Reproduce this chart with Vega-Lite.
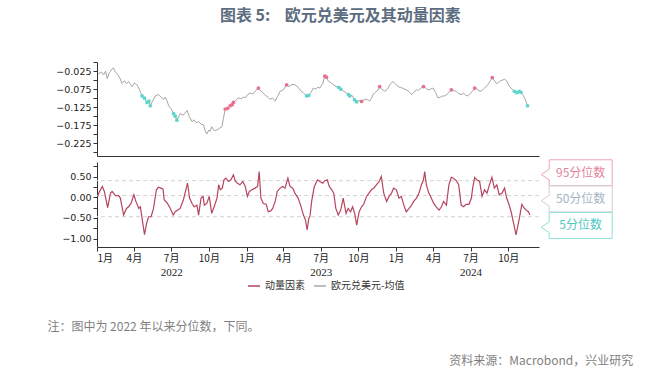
{
  "$schema": "https://vega.github.io/schema/vega-lite/v6.json",
  "background": "white",
  "padding": {"left": 47, "top": 7, "right": 5, "bottom": 4},
  "title": {"text": "图表 5:\u00a0\u00a0\u00a0\u00a0欧元兑美元及其动量因素", "anchor": "middle", "font": "Noto Sans CJK SC", "fontSize": 16, "fontWeight": "bold", "color": "#5d6d80", "offset": 38},
  "bounds": "flush",
  "spacing": 6,
  "resolve": {"scale": {"color": "shared"}, "legend": {"color": "shared"}},
  "config": {
    "view": {"stroke": null},
    "axis": {"grid": false, "domainColor": "#333333", "tickColor": "#333333", "labelColor": "#222222", "labelFont": "DejaVu Sans", "labelFontSize": 9.5, "tickSize": 4, "domainWidth": 1, "tickWidth": 1},
    "legend": {"orient": "none", "legendX": 150, "legendY": 217, "direction": "horizontal", "symbolType": "stroke", "symbolSize": 144, "symbolStrokeWidth": 1.5, "labelFont": "Noto Sans CJK SC", "labelFontSize": 10, "labelColor": "#333333", "columnPadding": 6, "labelOffset": 4}
  },
  "datasets": {
    "eur": [
      {"date": "2022-01-03", "v": -0.030}, {"date": "2022-01-05", "v": -0.032}, {"date": "2022-01-12", "v": -0.028}, {"date": "2022-01-17", "v": -0.036},
      {"date": "2022-01-22", "v": -0.025}, {"date": "2022-01-26", "v": -0.046}, {"date": "2022-01-31", "v": -0.030}, {"date": "2022-02-07", "v": -0.019},
      {"date": "2022-02-10", "v": -0.016}, {"date": "2022-02-15", "v": -0.028}, {"date": "2022-02-20", "v": -0.034}, {"date": "2022-02-26", "v": -0.045},
      {"date": "2022-03-03", "v": -0.059}, {"date": "2022-03-09", "v": -0.052}, {"date": "2022-03-14", "v": -0.060}, {"date": "2022-03-19", "v": -0.054},
      {"date": "2022-03-24", "v": -0.062}, {"date": "2022-03-28", "v": -0.068}, {"date": "2022-04-02", "v": -0.058}, {"date": "2022-04-09", "v": -0.063},
      {"date": "2022-04-14", "v": -0.075}, {"date": "2022-04-21", "v": -0.094, "s": "lo"}, {"date": "2022-04-27", "v": -0.100, "s": "lo"}, {"date": "2022-05-03", "v": -0.112, "s": "lo"},
      {"date": "2022-05-08", "v": -0.108, "s": "lo"}, {"date": "2022-05-11", "v": -0.121, "s": "lo"}, {"date": "2022-05-16", "v": -0.110}, {"date": "2022-05-23", "v": -0.094},
      {"date": "2022-05-31", "v": -0.090}, {"date": "2022-06-07", "v": -0.098}, {"date": "2022-06-13", "v": -0.103}, {"date": "2022-06-17", "v": -0.097},
      {"date": "2022-06-21", "v": -0.108}, {"date": "2022-06-25", "v": -0.121}, {"date": "2022-06-30", "v": -0.128}, {"date": "2022-07-07", "v": -0.143, "s": "lo"},
      {"date": "2022-07-11", "v": -0.150, "s": "lo"}, {"date": "2022-07-15", "v": -0.161, "s": "lo"}, {"date": "2022-07-20", "v": -0.150}, {"date": "2022-07-23", "v": -0.143},
      {"date": "2022-07-31", "v": -0.147}, {"date": "2022-08-09", "v": -0.134}, {"date": "2022-08-14", "v": -0.150}, {"date": "2022-08-21", "v": -0.165},
      {"date": "2022-08-26", "v": -0.160}, {"date": "2022-08-31", "v": -0.168}, {"date": "2022-09-06", "v": -0.165}, {"date": "2022-09-12", "v": -0.172},
      {"date": "2022-09-18", "v": -0.174}, {"date": "2022-09-22", "v": -0.190}, {"date": "2022-09-26", "v": -0.199}, {"date": "2022-10-01", "v": -0.188},
      {"date": "2022-10-04", "v": -0.192}, {"date": "2022-10-08", "v": -0.179}, {"date": "2022-10-14", "v": -0.190}, {"date": "2022-10-21", "v": -0.188},
      {"date": "2022-10-26", "v": -0.184}, {"date": "2022-11-02", "v": -0.179}, {"date": "2022-11-05", "v": -0.160}, {"date": "2022-11-10", "v": -0.130, "s": "hi"},
      {"date": "2022-11-16", "v": -0.128, "s": "hi"}, {"date": "2022-11-22", "v": -0.121, "s": "hi"}, {"date": "2022-11-27", "v": -0.118, "s": "hi"}, {"date": "2022-11-30", "v": -0.112, "s": "hi"},
      {"date": "2022-12-05", "v": -0.108}, {"date": "2022-12-12", "v": -0.099}, {"date": "2022-12-19", "v": -0.102}, {"date": "2022-12-24", "v": -0.097},
      {"date": "2022-12-29", "v": -0.099}, {"date": "2023-01-04", "v": -0.090}, {"date": "2023-01-10", "v": -0.086}, {"date": "2023-01-17", "v": -0.088},
      {"date": "2023-01-24", "v": -0.078}, {"date": "2023-01-30", "v": -0.072, "s": "hi"}, {"date": "2023-02-03", "v": -0.078}, {"date": "2023-02-11", "v": -0.086},
      {"date": "2023-02-18", "v": -0.094}, {"date": "2023-02-23", "v": -0.098}, {"date": "2023-02-27", "v": -0.103}, {"date": "2023-03-06", "v": -0.100},
      {"date": "2023-03-12", "v": -0.108}, {"date": "2023-03-18", "v": -0.095}, {"date": "2023-03-24", "v": -0.081}, {"date": "2023-03-31", "v": -0.078},
      {"date": "2023-04-09", "v": -0.063, "s": "hi"}, {"date": "2023-04-15", "v": -0.068}, {"date": "2023-04-22", "v": -0.062}, {"date": "2023-04-29", "v": -0.063},
      {"date": "2023-05-07", "v": -0.070}, {"date": "2023-05-12", "v": -0.078}, {"date": "2023-05-20", "v": -0.086}, {"date": "2023-05-28", "v": -0.094, "s": "lo"},
      {"date": "2023-06-02", "v": -0.092, "s": "lo"}, {"date": "2023-06-07", "v": -0.085}, {"date": "2023-06-13", "v": -0.072}, {"date": "2023-06-19", "v": -0.075},
      {"date": "2023-06-24", "v": -0.070}, {"date": "2023-06-29", "v": -0.072}, {"date": "2023-07-06", "v": -0.060}, {"date": "2023-07-11", "v": -0.039, "s": "hi"},
      {"date": "2023-07-15", "v": -0.042, "s": "hi"}, {"date": "2023-07-19", "v": -0.052}, {"date": "2023-07-28", "v": -0.059}, {"date": "2023-08-02", "v": -0.064},
      {"date": "2023-08-09", "v": -0.068}, {"date": "2023-08-14", "v": -0.070, "s": "lo"}, {"date": "2023-08-19", "v": -0.075, "s": "lo"}, {"date": "2023-08-25", "v": -0.080},
      {"date": "2023-09-02", "v": -0.086}, {"date": "2023-09-07", "v": -0.090, "s": "lo"}, {"date": "2023-09-10", "v": -0.094, "s": "lo"}, {"date": "2023-09-16", "v": -0.093},
      {"date": "2023-09-22", "v": -0.105, "s": "lo"}, {"date": "2023-09-27", "v": -0.110, "s": "lo"}, {"date": "2023-10-01", "v": -0.106}, {"date": "2023-10-09", "v": -0.109, "s": "hi"},
      {"date": "2023-10-14", "v": -0.105}, {"date": "2023-10-21", "v": -0.103}, {"date": "2023-10-25", "v": -0.106}, {"date": "2023-10-29", "v": -0.108},
      {"date": "2023-11-02", "v": -0.100}, {"date": "2023-11-06", "v": -0.090}, {"date": "2023-11-11", "v": -0.084}, {"date": "2023-11-18", "v": -0.078},
      {"date": "2023-11-22", "v": -0.068, "s": "hi"}, {"date": "2023-11-27", "v": -0.075}, {"date": "2023-12-05", "v": -0.081}, {"date": "2023-12-11", "v": -0.075},
      {"date": "2023-12-17", "v": -0.062}, {"date": "2023-12-25", "v": -0.054}, {"date": "2023-12-30", "v": -0.060}, {"date": "2024-01-06", "v": -0.068},
      {"date": "2024-01-12", "v": -0.070}, {"date": "2024-01-20", "v": -0.074}, {"date": "2024-01-26", "v": -0.077}, {"date": "2024-02-01", "v": -0.081},
      {"date": "2024-02-08", "v": -0.090}, {"date": "2024-02-13", "v": -0.084}, {"date": "2024-02-20", "v": -0.077}, {"date": "2024-02-25", "v": -0.078},
      {"date": "2024-03-02", "v": -0.072}, {"date": "2024-03-08", "v": -0.068, "s": "hi"}, {"date": "2024-03-13", "v": -0.072}, {"date": "2024-03-19", "v": -0.077},
      {"date": "2024-03-25", "v": -0.075}, {"date": "2024-03-31", "v": -0.072}, {"date": "2024-04-07", "v": -0.085}, {"date": "2024-04-12", "v": -0.099},
      {"date": "2024-04-19", "v": -0.097}, {"date": "2024-04-24", "v": -0.094}, {"date": "2024-04-29", "v": -0.094}, {"date": "2024-05-06", "v": -0.088},
      {"date": "2024-05-15", "v": -0.077, "s": "hi"}, {"date": "2024-05-20", "v": -0.079}, {"date": "2024-05-27", "v": -0.081}, {"date": "2024-06-02", "v": -0.088},
      {"date": "2024-06-08", "v": -0.090}, {"date": "2024-06-14", "v": -0.087}, {"date": "2024-06-19", "v": -0.092}, {"date": "2024-06-24", "v": -0.094},
      {"date": "2024-07-01", "v": -0.086}, {"date": "2024-07-06", "v": -0.080}, {"date": "2024-07-11", "v": -0.072, "s": "hi"}, {"date": "2024-07-17", "v": -0.075},
      {"date": "2024-07-22", "v": -0.080}, {"date": "2024-07-27", "v": -0.081}, {"date": "2024-08-02", "v": -0.074}, {"date": "2024-08-08", "v": -0.068},
      {"date": "2024-08-14", "v": -0.060}, {"date": "2024-08-19", "v": -0.050}, {"date": "2024-08-23", "v": -0.043, "s": "hi"}, {"date": "2024-08-27", "v": -0.050},
      {"date": "2024-09-01", "v": -0.058}, {"date": "2024-09-05", "v": -0.059}, {"date": "2024-09-12", "v": -0.052}, {"date": "2024-09-17", "v": -0.050},
      {"date": "2024-09-22", "v": -0.048}, {"date": "2024-09-27", "v": -0.052}, {"date": "2024-10-04", "v": -0.068}, {"date": "2024-10-10", "v": -0.075},
      {"date": "2024-10-16", "v": -0.081, "s": "lo"}, {"date": "2024-10-22", "v": -0.085, "s": "lo"}, {"date": "2024-10-28", "v": -0.081, "s": "lo"}, {"date": "2024-11-01", "v": -0.084, "s": "lo"},
      {"date": "2024-11-05", "v": -0.090}, {"date": "2024-11-11", "v": -0.102}, {"date": "2024-11-17", "v": -0.121, "s": "lo"}
    ],
    "mom": [
      {"date": "2022-01-03", "m": 0.02}, {"date": "2022-01-05", "m": 0.10}, {"date": "2022-01-14", "m": 0.26}, {"date": "2022-01-19", "m": 0.14},
      {"date": "2022-01-27", "m": -0.25}, {"date": "2022-02-03", "m": 0.10}, {"date": "2022-02-07", "m": 0.14}, {"date": "2022-02-15", "m": 0.04},
      {"date": "2022-02-23", "m": 0.04}, {"date": "2022-02-27", "m": -0.02}, {"date": "2022-03-07", "m": -0.43}, {"date": "2022-03-14", "m": -0.27},
      {"date": "2022-03-19", "m": -0.23}, {"date": "2022-03-25", "m": -0.15}, {"date": "2022-04-01", "m": 0.06}, {"date": "2022-04-06", "m": -0.10},
      {"date": "2022-04-13", "m": -0.27}, {"date": "2022-04-17", "m": -0.23}, {"date": "2022-04-21", "m": -0.51}, {"date": "2022-04-27", "m": -0.90},
      {"date": "2022-05-02", "m": -0.63}, {"date": "2022-05-07", "m": -0.47}, {"date": "2022-05-13", "m": -0.47}, {"date": "2022-05-19", "m": -0.27},
      {"date": "2022-05-26", "m": 0.18}, {"date": "2022-05-31", "m": 0.24}, {"date": "2022-06-06", "m": 0.22}, {"date": "2022-06-11", "m": 0.20},
      {"date": "2022-06-14", "m": -0.06}, {"date": "2022-06-22", "m": -0.15}, {"date": "2022-06-29", "m": -0.27}, {"date": "2022-07-06", "m": -0.43},
      {"date": "2022-07-11", "m": -0.35}, {"date": "2022-07-17", "m": -0.31}, {"date": "2022-07-23", "m": -0.27}, {"date": "2022-07-31", "m": -0.06},
      {"date": "2022-08-10", "m": 0.34}, {"date": "2022-08-15", "m": -0.02}, {"date": "2022-08-21", "m": -0.15}, {"date": "2022-08-26", "m": -0.23},
      {"date": "2022-09-02", "m": -0.19}, {"date": "2022-09-06", "m": -0.43}, {"date": "2022-09-12", "m": -0.02}, {"date": "2022-09-17", "m": 0.02},
      {"date": "2022-09-20", "m": -0.19}, {"date": "2022-09-26", "m": -0.15}, {"date": "2022-10-02", "m": 0.02}, {"date": "2022-10-08", "m": -0.39},
      {"date": "2022-10-14", "m": -0.23}, {"date": "2022-10-21", "m": -0.02}, {"date": "2022-10-25", "m": 0.30}, {"date": "2022-10-29", "m": 0.18},
      {"date": "2022-11-03", "m": 0.22}, {"date": "2022-11-07", "m": 0.42}, {"date": "2022-11-12", "m": 0.46}, {"date": "2022-11-18", "m": 0.38},
      {"date": "2022-11-24", "m": 0.42}, {"date": "2022-11-30", "m": 0.54}, {"date": "2022-12-05", "m": 0.38}, {"date": "2022-12-10", "m": 0.34},
      {"date": "2022-12-16", "m": 0.30}, {"date": "2022-12-23", "m": 0.38}, {"date": "2022-12-29", "m": 0.26}, {"date": "2023-01-03", "m": 0.02},
      {"date": "2023-01-08", "m": 0.14}, {"date": "2023-01-14", "m": 0.18}, {"date": "2023-01-22", "m": 0.22}, {"date": "2023-01-28", "m": 0.26},
      {"date": "2023-02-01", "m": 0.62}, {"date": "2023-02-05", "m": -0.02}, {"date": "2023-02-11", "m": -0.15}, {"date": "2023-02-18", "m": -0.17},
      {"date": "2023-02-23", "m": -0.35}, {"date": "2023-03-01", "m": -0.33}, {"date": "2023-03-06", "m": -0.27}, {"date": "2023-03-12", "m": -0.10},
      {"date": "2023-03-17", "m": 0.14}, {"date": "2023-03-24", "m": 0.22}, {"date": "2023-03-30", "m": 0.26}, {"date": "2023-04-05", "m": 0.22},
      {"date": "2023-04-12", "m": 0.46}, {"date": "2023-04-17", "m": 0.26}, {"date": "2023-04-24", "m": 0.22}, {"date": "2023-04-29", "m": 0.10},
      {"date": "2023-05-07", "m": -0.02}, {"date": "2023-05-13", "m": -0.19}, {"date": "2023-05-20", "m": -0.43}, {"date": "2023-05-25", "m": -0.55},
      {"date": "2023-05-29", "m": -0.79}, {"date": "2023-06-02", "m": -0.51}, {"date": "2023-06-05", "m": -0.45}, {"date": "2023-06-09", "m": -0.10},
      {"date": "2023-06-15", "m": 0.24}, {"date": "2023-06-23", "m": 0.42}, {"date": "2023-06-29", "m": 0.38}, {"date": "2023-07-06", "m": 0.34},
      {"date": "2023-07-11", "m": 0.40}, {"date": "2023-07-17", "m": 0.42}, {"date": "2023-07-22", "m": 0.26}, {"date": "2023-07-28", "m": 0.18},
      {"date": "2023-08-02", "m": 0.10}, {"date": "2023-08-07", "m": -0.27}, {"date": "2023-08-13", "m": -0.43}, {"date": "2023-08-19", "m": -0.31},
      {"date": "2023-08-25", "m": -0.02}, {"date": "2023-09-01", "m": -0.39}, {"date": "2023-09-06", "m": -0.27}, {"date": "2023-09-12", "m": -0.35},
      {"date": "2023-09-17", "m": -0.23}, {"date": "2023-09-22", "m": -0.39}, {"date": "2023-09-27", "m": -0.67}, {"date": "2023-10-03", "m": -0.35},
      {"date": "2023-10-09", "m": -0.23}, {"date": "2023-10-14", "m": -0.17}, {"date": "2023-10-21", "m": 0.02}, {"date": "2023-10-27", "m": 0.10},
      {"date": "2023-11-02", "m": 0.18}, {"date": "2023-11-08", "m": 0.22}, {"date": "2023-11-14", "m": 0.30}, {"date": "2023-11-21", "m": 0.38},
      {"date": "2023-11-26", "m": 0.50}, {"date": "2023-12-02", "m": 0.10}, {"date": "2023-12-09", "m": -0.10}, {"date": "2023-12-15", "m": 0.02},
      {"date": "2023-12-21", "m": 0.10}, {"date": "2023-12-26", "m": 0.22}, {"date": "2024-01-02", "m": 0.18}, {"date": "2024-01-08", "m": -0.02},
      {"date": "2024-01-14", "m": 0.02}, {"date": "2024-01-20", "m": -0.19}, {"date": "2024-01-26", "m": -0.35}, {"date": "2024-02-02", "m": -0.27},
      {"date": "2024-02-08", "m": -0.19}, {"date": "2024-02-13", "m": -0.10}, {"date": "2024-02-20", "m": -0.02}, {"date": "2024-02-26", "m": 0.10},
      {"date": "2024-03-03", "m": 0.30}, {"date": "2024-03-08", "m": 0.42}, {"date": "2024-03-11", "m": 0.62}, {"date": "2024-03-15", "m": 0.30},
      {"date": "2024-03-21", "m": 0.10}, {"date": "2024-03-27", "m": -0.02}, {"date": "2024-04-02", "m": -0.15}, {"date": "2024-04-08", "m": -0.23},
      {"date": "2024-04-15", "m": -0.31}, {"date": "2024-04-21", "m": -0.23}, {"date": "2024-04-26", "m": -0.10}, {"date": "2024-05-03", "m": -0.19},
      {"date": "2024-05-09", "m": 0.30}, {"date": "2024-05-15", "m": 0.48}, {"date": "2024-05-20", "m": 0.46}, {"date": "2024-05-27", "m": 0.40},
      {"date": "2024-06-02", "m": 0.30}, {"date": "2024-06-08", "m": -0.19}, {"date": "2024-06-14", "m": -0.23}, {"date": "2024-06-20", "m": -0.17},
      {"date": "2024-06-27", "m": -0.17}, {"date": "2024-07-03", "m": -0.02}, {"date": "2024-07-06", "m": 0.22}, {"date": "2024-07-11", "m": 0.48},
      {"date": "2024-07-16", "m": 0.42}, {"date": "2024-07-23", "m": 0.38}, {"date": "2024-07-29", "m": 0.02}, {"date": "2024-08-04", "m": 0.18},
      {"date": "2024-08-10", "m": 0.10}, {"date": "2024-08-16", "m": 0.30}, {"date": "2024-08-22", "m": 0.48}, {"date": "2024-08-28", "m": 0.22},
      {"date": "2024-09-03", "m": 0.30}, {"date": "2024-09-09", "m": 0.06}, {"date": "2024-09-16", "m": 0.10}, {"date": "2024-09-22", "m": 0.22},
      {"date": "2024-09-27", "m": -0.02}, {"date": "2024-10-02", "m": -0.15}, {"date": "2024-10-08", "m": -0.35}, {"date": "2024-10-14", "m": -0.63},
      {"date": "2024-10-20", "m": -0.91}, {"date": "2024-10-24", "m": -0.71}, {"date": "2024-10-28", "m": -0.51}, {"date": "2024-11-03", "m": -0.17},
      {"date": "2024-11-08", "m": -0.25}, {"date": "2024-11-14", "m": -0.31}, {"date": "2024-11-19", "m": -0.35}, {"date": "2024-11-23", "m": -0.43}
    ],
    "pct": [
      {"pct": "95分位数", "value": 0.40},
      {"pct": "50分位数", "value": 0.04},
      {"pct": "5分位数", "value": -0.47}
    ],
    "boxes": [
      {"label": "95分位数", "pct": "95", "date": "2025-03-17", "y": 0.59},
      {"label": "50分位数", "pct": "50", "date": "2025-03-17", "y": -0.04},
      {"label": "5分位数", "pct": "5", "date": "2025-03-17", "y": -0.68}
    ],
    "notes": [
      {"kind": "note", "text": "注：图中为 2022 年以来分位数，下同。", "date": "2021-09-02", "v": -3.14},
      {"kind": "source", "text": "资料来源：Macrobond，兴业研究", "date": "2025-08-02", "v": -3.94}
    ]
  },
  "vconcat": [
    {
      "width": 442,
      "height": 94,
      "data": {"name": "eur"},
      "resolve": {"axis": {"x": "independent", "y": "independent"}},
      "layer": [
        {
          "mark": {"type": "line", "strokeWidth": 1},
          "encoding": {
            "x": {"field": "date", "type": "temporal", "scale": {"domain": [{"year": 2022, "month": 1, "date": 1}, {"year": 2024, "month": 12, "date": 15}]}, "axis": {"orient": "bottom", "labels": false, "ticks": false, "domain": true, "title": null}},
            "y": {"field": "v", "type": "quantitative", "scale": {"domain": [-0.25, 0]}, "axis": {"orient": "left", "title": null, "format": ".3f", "values": [-0.25, -0.225, -0.2, -0.175, -0.15, -0.125, -0.1, -0.075, -0.05, -0.025, 0], "labelExpr": "abs(round(datum.value*1000)) % 50 == 25 ? datum.label : ''"}},
            "color": {"datum": "欧元兑美元-均值", "type": "nominal", "scale": {"domain": ["动量因素", "欧元兑美元-均值"], "range": ["#b5455e", "#a6a6a6"]}, "legend": {"title": null}}
          }
        },
        {
          "transform": [{"filter": "datum.s === 'hi'"}],
          "mark": {"type": "circle", "size": 14, "color": "#e8728c", "opacity": 1},
          "encoding": {
            "x": {"field": "date", "type": "temporal", "axis": null},
            "y": {"field": "v", "type": "quantitative", "axis": null}
          }
        },
        {
          "transform": [{"filter": "datum.s === 'lo'"}],
          "mark": {"type": "circle", "size": 14, "color": "#5fd6cc", "opacity": 1},
          "encoding": {
            "x": {"field": "date", "type": "temporal", "axis": null},
            "y": {"field": "v", "type": "quantitative", "axis": null}
          }
        }
      ]
    },
    {
      "width": 442,
      "height": 85,
      "resolve": {"axis": {"x": "independent", "y": "independent"}},
      "layer": [
        {
          "data": {"name": "pct"},
          "mark": {"type": "rule", "strokeDash": [4, 3], "color": "#d3d3d3", "strokeWidth": 1},
          "encoding": {
            "y": {"field": "value", "type": "quantitative", "scale": {"domain": [-1.2, 0.85]}, "axis": null}
          }
        },
        {
          "data": {"name": "mom"},
          "mark": {"type": "line", "strokeWidth": 1.2},
          "encoding": {
            "x": {"field": "date", "type": "temporal", "scale": {"domain": [{"year": 2022, "month": 1, "date": 1}, {"year": 2024, "month": 12, "date": 15}]},
              "axis": {"orient": "bottom", "title": null, "labelFont": "Noto Sans CJK SC", "labelFontSize": 10, "labelPadding": 2,
                "values": [{"year": 2022, "month": 1, "date": 1}, {"year": 2022, "month": 4, "date": 1}, {"year": 2022, "month": 7, "date": 1}, {"year": 2022, "month": 10, "date": 1},
                           {"year": 2023, "month": 1, "date": 1}, {"year": 2023, "month": 4, "date": 1}, {"year": 2023, "month": 7, "date": 1}, {"year": 2023, "month": 10, "date": 1},
                           {"year": 2024, "month": 1, "date": 1}, {"year": 2024, "month": 4, "date": 1}, {"year": 2024, "month": 7, "date": 1}, {"year": 2024, "month": 10, "date": 1}],
                "labelExpr": "(month(datum.value) + 1) + '月'"}},
            "y": {"field": "m", "type": "quantitative", "scale": {"domain": [-1.2, 0.85]}, "axis": {"orient": "left", "title": null, "format": ".2f", "values": [-1, -0.75, -0.5, -0.25, 0, 0.25, 0.5, 0.75], "labelExpr": "abs(round(datum.value*100)) % 50 == 0 ? datum.label : ''"}},
            "color": {"datum": "动量因素", "type": "nominal", "scale": {"domain": ["动量因素", "欧元兑美元-均值"], "range": ["#b5455e", "#a6a6a6"]}, "legend": {"title": null}}
          }
        },
        {
          "data": {"name": "boxes"},
          "mark": {"type": "point", "shape": "M -0.775 -0.366 L 1 -0.366 L 1 0.366 L -0.775 0.366 L -0.775 0.2 L -1 0.05 L -0.775 -0.1 Z", "size": 5041, "filled": true, "fill": "white", "strokeWidth": 1, "opacity": 1},
          "encoding": {
            "x": {"field": "date", "type": "temporal", "scale": {"domain": [{"year": 2022, "month": 1, "date": 1}, {"year": 2024, "month": 12, "date": 15}]}, "axis": null},
            "y": {"field": "y", "type": "quantitative", "scale": {"domain": [-1.2, 0.85]}, "axis": null},
            "stroke": {"field": "pct", "type": "nominal", "scale": {"domain": ["95", "50", "5"], "range": ["#eba5b5", "#d6cdd0", "#8fe0d9"]}, "legend": null}
          }
        },
        {
          "data": {"name": "boxes"},
          "mark": {"type": "text", "font": "Noto Sans CJK SC", "fontSize": 12, "dx": 4},
          "encoding": {
            "x": {"field": "date", "type": "temporal", "scale": {"domain": [{"year": 2022, "month": 1, "date": 1}, {"year": 2024, "month": 12, "date": 15}]}, "axis": null},
            "y": {"field": "y", "type": "quantitative", "scale": {"domain": [-1.2, 0.85]}, "axis": null},
            "text": {"field": "label"},
            "fill": {"field": "pct", "type": "nominal", "scale": {"domain": ["95", "50", "5"], "range": ["#e2859b", "#a3b4c6", "#4ec7bf"]}, "legend": null}
          }
        },
        {
          "data": {"name": "notes"},
          "transform": [{"filter": "datum.kind === 'note'"}],
          "mark": {"type": "text", "align": "left", "font": "Noto Sans CJK SC", "fontSize": 12, "color": "#7f7f7f"},
          "encoding": {
            "x": {"field": "date", "type": "temporal", "scale": {"domain": [{"year": 2022, "month": 1, "date": 1}, {"year": 2024, "month": 12, "date": 15}]},
              "axis": {"orient": "bottom", "title": null, "domain": false, "ticks": false, "tickSize": 0, "labelPadding": 19, "labelFont": "Liberation Serif", "labelFontSize": 11,
                "values": [{"year": 2022, "month": 7, "date": 1}, {"year": 2023, "month": 7, "date": 1}, {"year": 2024, "month": 7, "date": 1}],
                "labelExpr": "'' + year(datum.value)"}},
            "y": {"field": "v", "type": "quantitative", "scale": {"domain": [-1.2, 0.85]}, "axis": null},
            "text": {"field": "text"}
          }
        },
        {
          "data": {"name": "notes"},
          "transform": [{"filter": "datum.kind === 'source'"}],
          "mark": {"type": "text", "align": "right", "font": "Noto Sans CJK SC", "fontSize": 12, "color": "#7f7f7f"},
          "encoding": {
            "x": {"field": "date", "type": "temporal", "scale": {"domain": [{"year": 2022, "month": 1, "date": 1}, {"year": 2024, "month": 12, "date": 15}]}, "axis": null},
            "y": {"field": "v", "type": "quantitative", "scale": {"domain": [-1.2, 0.85]}, "axis": null},
            "text": {"field": "text"}
          }
        }
      ]
    }
  ]
}
